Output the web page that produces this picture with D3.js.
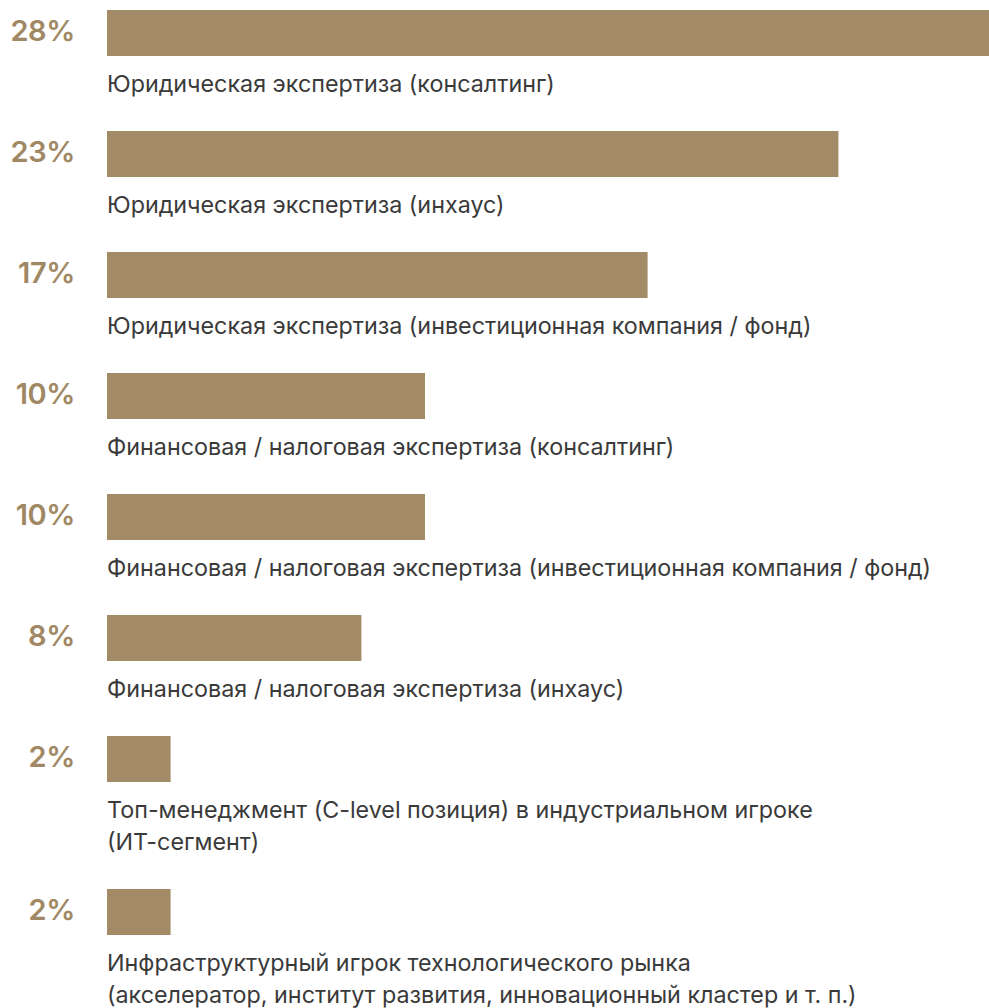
<!DOCTYPE html>
<html>
<head>
<meta charset="utf-8">
<script src="https://cdn.jsdelivr.net/npm/d3@7"></script>
<style>
  html, body { margin: 0; padding: 0; background: #fff; }
  svg { display: block; }
</style>
</head>
<body>
<svg id="chart" width="989" height="1008"></svg>
<script>
// Share of respondents by background
const categories = [
  ["Юридическая экспертиза (консалтинг)"],
  ["Юридическая экспертиза (инхаус)"],
  ["Юридическая экспертиза (инвестиционная компания / фонд)"],
  ["Финансовая / налоговая экспертиза (консалтинг)"],
  ["Финансовая / налоговая экспертиза (инвестиционная компания / фонд)"],
  ["Финансовая / налоговая экспертиза (инхаус)"],
  ["Топ-менеджмент (C-level позиция) в индустриальном игроке", "(ИТ-сегмент)"],
  ["Инфраструктурный игрок технологического рынка", "(акселератор, институт развития, инновационный кластер и т. п.)"]
];
const values = [28, 23, 17, 10, 10, 8, 2, 2];
const valueLabels = ["28%", "23%", "17%", "10%", "10%", "8%", "2%", "2%"];

const svg = d3.select("#chart");
const barLeft = 107;
const barHeight = 46;
const rowStep = 121;
const lineHeight = 32;

const x = d3.scaleLinear().domain([0, 10]).range([barLeft, barLeft + 318]);

// vertical position of each row, accounting for multi-line captions
const rowTops = [];
let y0 = 10;
categories.forEach(lines => {
  rowTops.push(y0);
  y0 += rowStep + (lines.length - 1) * lineHeight;
});

const rows = svg.selectAll("g.row")
  .data(values.map((v, i) => ({ v, label: valueLabels[i], lines: categories[i], top: rowTops[i] })))
  .join("g")
  .attr("class", "row")
  .attr("transform", d => `translate(0,${d.top})`);

rows.append("rect")
  .attr("x", x(0))
  .attr("y", 0)
  .attr("width", d => x(d.v) - x(0))
  .attr("height", barHeight)
  .attr("fill", "#a28b66");

rows.append("text")
  .attr("x", 75)
  .attr("y", 31)
  .attr("text-anchor", "end")
  .attr("font-family", "Inter, 'Noto Sans', sans-serif")
  .attr("font-weight", 600)
  .attr("font-size", 29)
  .attr("letter-spacing", -0.4)
  .attr("fill", "#9f8863")
  .text(d => d.label);

rows.append("text")
  .attr("x", barLeft)
  .attr("y", 82)
  .attr("font-family", "Inter, 'Noto Sans', sans-serif")
  .attr("font-size", 23.3)
  .attr("fill", "#3a3a3a")
  .selectAll("tspan")
  .data(d => d.lines)
  .join("tspan")
  .attr("x", barLeft)
  .attr("dy", (d, i) => i === 0 ? 0 : lineHeight)
  .text(d => d);
</script>
</body>
</html>
